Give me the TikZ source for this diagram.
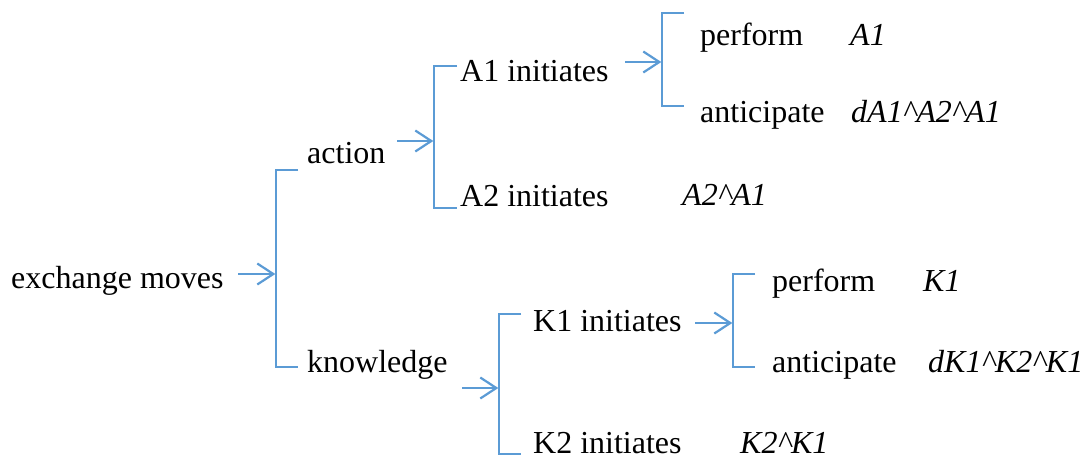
\documentclass[tikz,border=0pt]{standalone}
\usepackage{fontspec}
\setmainfont{Liberation Serif}
\usetikzlibrary{arrows.meta}
\definecolor{lineblue}{RGB}{91,155,213}
\begin{document}
\begin{tikzpicture}[x=1pt,y=-1pt,
  txt/.style={anchor=base west,inner sep=0pt,font=\fontsize{32}{38}\selectfont},
  code/.style={anchor=base west,inner sep=0pt,font=\fontsize{32}{38}\selectfont\itshape},
  bracket/.style={draw=lineblue,line width=1.5pt},
  feed/.style={draw=lineblue,line width=2.2pt,
    -{Straight Barb[length=16pt,width=21pt,line width=2.2pt]}}]
\useasboundingbox (0,0) rectangle (1084,459);

% labels
\node[txt]  (ex)   at (11,288)  {exchange moves};
\node[txt]  (act)  at (307,163) {action};
\node[txt]  (know) at (307,372) {knowledge};
\node[txt]  (a1)   at (460,81)  {A1 initiates};
\node[txt]  (a2)   at (460,206) {A2 initiates};
\node[code] (a2c)  at (682,205) {A2\textasciicircum A1};
\node[txt]  (ap)   at (700,45)  {perform};
\node[code] (apc)  at (850,45)  {A1};
\node[txt]  (aa)   at (700,122) {anticipate};
\node[code] (aac)  at (851,122) {dA1\textasciicircum A2\textasciicircum A1};
\node[txt]  (k1)   at (533,331) {K1 initiates};
\node[txt]  (k2)   at (533,453) {K2 initiates};
\node[code] (k2c)  at (740,453) {K2\textasciicircum K1};
\node[txt]  (kp)   at (772,291) {perform};
\node[code] (kpc)  at (923,291) {K1};
\node[txt]  (ka)   at (772,372) {anticipate};
\node[code] (kac)  at (928,372) {dK1\textasciicircum K2\textasciicircum K1};

% bracket corners (tick ends) and spine points
\coordinate (b0t) at (298,170); \coordinate (b0b) at (298,367); \coordinate (b0m) at (276,274);
\coordinate (b1t) at (457,66);  \coordinate (b1b) at (457,208); \coordinate (b1m) at (434,141);
\coordinate (b2t) at (684,13);  \coordinate (b2b) at (684,106); \coordinate (b2m) at (662,62);
\coordinate (b3t) at (521,314); \coordinate (b3b) at (521,454); \coordinate (b3m) at (499,388);
\coordinate (b4t) at (755,274); \coordinate (b4b) at (755,367); \coordinate (b4m) at (733,323);

% arrow tails
\coordinate (f0) at (238,274);
\coordinate (f1) at (397,141);
\coordinate (f2) at (625,62);
\coordinate (f3) at (462,388);
\coordinate (f4) at (695,323);

% brackets
\foreach \b in {b0,b1,b2,b3,b4}{
  \draw[bracket] (\b t) -- (\b t -| \b m) -- (\b b -| \b m) -- (\b b);
}

% arrows into the brackets
\draw[feed] (f0) -- ([xshift=-0.7pt]b0m);
\draw[feed] (f1) -- ([xshift=-0.7pt]b1m);
\draw[feed] (f2) -- ([xshift=-0.7pt]b2m);
\draw[feed] (f3) -- ([xshift=-0.7pt]b3m);
\draw[feed] (f4) -- ([xshift=-0.7pt]b4m);
\end{tikzpicture}
\end{document}
